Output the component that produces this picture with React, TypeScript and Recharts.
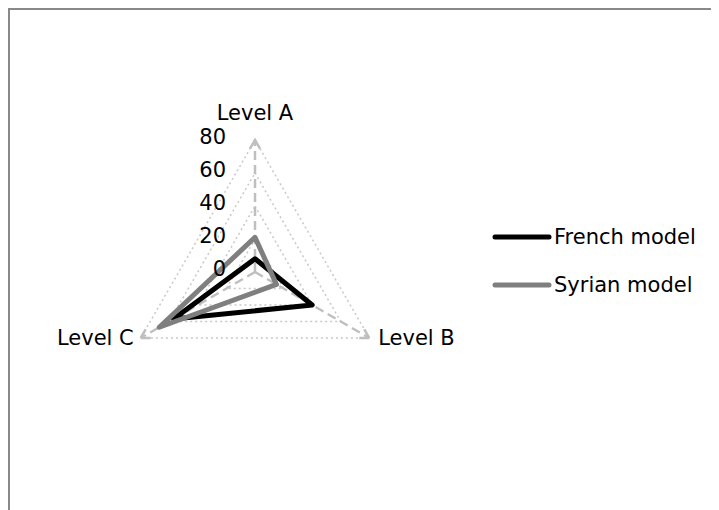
import React from 'react'
import {
  Legend,
  PolarAngleAxis,
  PolarGrid,
  PolarRadiusAxis,
  Radar,
  RadarChart,
} from 'recharts'

const levels = ['Level A', 'Level B', 'Level C']
const frenchModel = [8, 40, 57]
const syrianModel = [21, 15, 67]
const radiusTicks = [0, 20, 40, 60, 80]

const palette = {
  french: '#000000',
  syrian: '#7f7f7f',
  grid: '#c8c8c8',
  spoke: '#bfbfbf',
  frame: '#898989',
  text: '#000000',
}

const font = '"DejaVu Sans", sans-serif'
const outer = 132
// one side of the outer triangle, used to keep the dash solid at each corner
const side = outer * Math.sqrt(3)

const data = levels.map((level, i) => ({
  level,
  french: frenchModel[i],
  syrian: syrianModel[i],
}))

function LevelTick({ x, y, textAnchor, payload }: any) {
  const top = textAnchor === 'middle'
  return (
    <text
      x={top ? x : x + (textAnchor === 'start' ? 2 : 0)}
      y={top ? y - 12 : y + 3}
      textAnchor={textAnchor}
      fontSize={21}
      fontFamily={font}
      fill={palette.text}
    >
      {payload.value}
    </text>
  )
}

function RadiusTick({ x, y, payload }: any) {
  return (
    <text
      x={x - 29}
      y={y + 4}
      textAnchor="end"
      fontSize={21}
      fontFamily={font}
      fill={palette.text}
    >
      {payload.value}
    </text>
  )
}

function LegendBox({ payload }: any) {
  return (
    <div style={{ fontFamily: font }}>
      {(payload || []).map((entry: any) => (
        <div
          key={entry.value}
          style={{ display: 'flex', alignItems: 'center', height: 48 }}
        >
          <svg width={60} height={10} style={{ marginRight: 2 }}>
            <line
              x1={3}
              y1={5}
              x2={57}
              y2={5}
              stroke={entry.color}
              strokeWidth={5}
              strokeLinecap="round"
            />
          </svg>
          <span style={{ fontSize: 21, color: palette.text }}>{entry.value}</span>
        </div>
      ))}
    </div>
  )
}

export default function App() {
  return (
    <div
      style={{
        width: 711,
        height: 502,
        borderLeft: `2px solid ${palette.frame}`,
        borderTop: `2px solid ${palette.frame}`,
        boxSizing: 'border-box',
        position: 'relative',
      }}
    >
      <RadarChart
        width={709}
        height={500}
        data={data}
        cx={245}
        cy={262}
        outerRadius={outer}
        style={{ fontFamily: font }}
      >
        <PolarGrid
          gridType="polygon"
          radialLines={false}
          stroke={palette.grid}
          strokeWidth={1.5}
          strokeDasharray="2 3"
        />
        <PolarGrid
          gridType="polygon"
          polarRadius={[]}
          stroke={palette.spoke}
          strokeWidth={2.5}
          strokeDasharray="9 5"
        />
        <PolarGrid
          gridType="polygon"
          radialLines={false}
          polarRadius={[outer]}
          stroke={palette.spoke}
          strokeWidth={2.5}
          strokeDasharray={`10 ${side - 20} 10 0`}
        />
        <PolarAngleAxis
          dataKey="level"
          axisLine={false}
          tickLine={false}
          tick={<LevelTick />}
        />
        <PolarRadiusAxis
          angle={90}
          domain={[0, 80]}
          ticks={radiusTicks}
          axisLine={false}
          tickLine={false}
          tick={<RadiusTick />}
        />
        <Radar
          name="French model"
          dataKey="french"
          stroke={palette.french}
          strokeWidth={5}
          strokeLinejoin="round"
          fill="none"
          fillOpacity={0}
          dot={false}
          isAnimationActive={false}
        />
        <Radar
          name="Syrian model"
          dataKey="syrian"
          stroke={palette.syrian}
          strokeWidth={5}
          strokeLinejoin="round"
          fill="none"
          fillOpacity={0}
          dot={false}
          isAnimationActive={false}
        />
        <Legend
          layout="vertical"
          content={<LegendBox />}
          wrapperStyle={{ left: 482, top: 203, width: 230 }}
        />
      </RadarChart>
    </div>
  )
}
